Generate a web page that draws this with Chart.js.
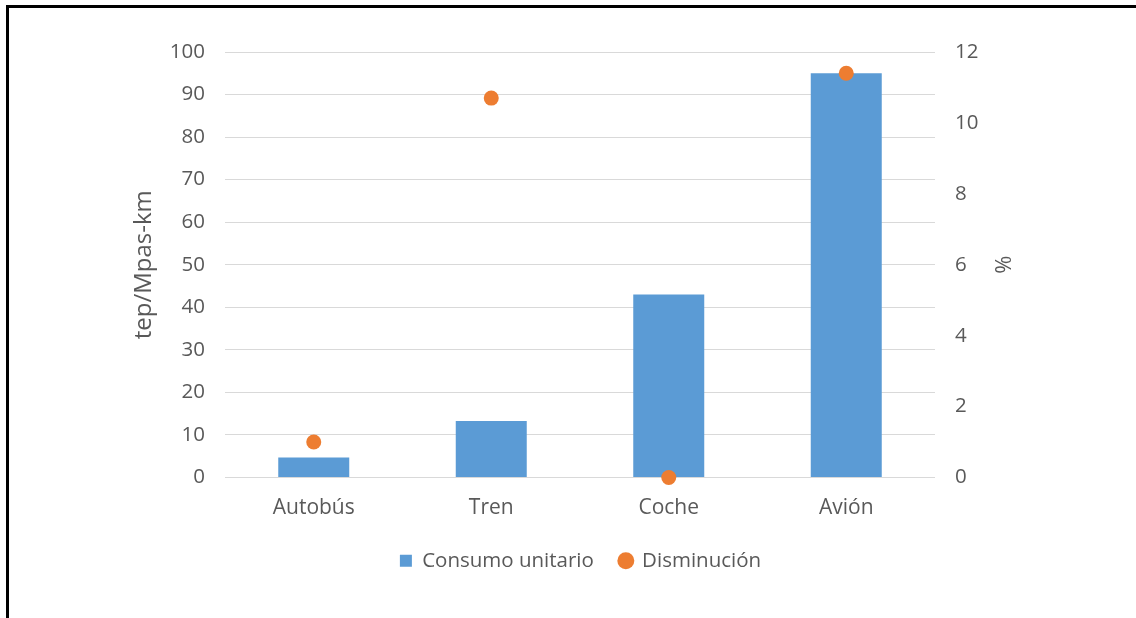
<!DOCTYPE html>
<html>
<head>
<meta charset="utf-8">
<script src="https://cdn.jsdelivr.net/npm/chart.js@4"></script>
<style>
  html, body { margin: 0; padding: 0; background: #fff; }
  #wrap { position: relative; width: 1136px; height: 618px; overflow: hidden; }
  #frame { position: absolute; left: 6px; top: 5px; width: 1200px; height: 700px;
           border-top: 3px solid #000; border-left: 3px solid #000; }
  #myChart { position: absolute; left: 0; top: 0; }
</style>
</head>
<body>
<div id="wrap">
  <div id="frame"></div>
  <canvas id="myChart" width="1136" height="618"></canvas>
</div>
<script>
// categorias y valores
const modos = ['Autobús', 'Tren', 'Coche', 'Avión'];
const consumoUnitario = [4.7, 13.3, 43, 95];    // tep/Mpas-km
const disminucion = [1.0, 10.7, 0, 11.4];        // %
const ticksIzq = [0, 10, 20, 30, 40, 50, 60, 70, 80, 90, 100];
const ticksDer = [0, 2, 4, 6, 8, 10, 12];

const gris = '#595959';
const fuente = "'Open Sans', 'Liberation Sans', sans-serif";

// titulo del eje derecho, girado como el izquierdo
const tituloDerecho = {
  id: 'tituloDerecho',
  afterDraw(chart) {
    const c = chart.ctx;
    const area = chart.chartArea;
    c.save();
    c.translate(1005, (area.top + area.bottom) / 2);
    c.rotate(-Math.PI / 2);
    c.font = '22px ' + fuente;
    c.fillStyle = gris;
    c.textAlign = 'center';
    c.textBaseline = 'middle';
    c.fillText('%', 0, 0);
    c.restore();
  }
};

let ctx = document.getElementById('myChart').getContext('2d');
let myChart = new Chart(ctx, {
  data: {
    labels: modos,
    datasets: [{
      type: 'bar',
      label: 'Consumo unitario',
      data: consumoUnitario,
      backgroundColor: '#5B9BD5',
      yAxisID: 'y',
      barPercentage: 0.4,
      categoryPercentage: 1,
      pointStyle: 'rect',
      order: 1
    }, {
      type: 'line',
      label: 'Disminución',
      data: disminucion,
      showLine: false,
      clip: false,
      yAxisID: 'y1',
      backgroundColor: '#ED7D31',
      borderColor: '#ED7D31',
      pointRadius: 7.5,
      pointBorderWidth: 0,
      pointStyle: 'circle',
      order: 0
    }]
  },
  options: {
    responsive: false,
    animation: false,
    layout: { padding: { left: 126, right: 101, top: 52, bottom: 37 } },
    plugins: {
      tooltip: { enabled: false },
      legend: {
        position: 'bottom',
        labels: {
          usePointStyle: true,
          boxWidth: 12,
          boxHeight: 12,
          padding: 26,
          color: gris,
          font: { family: fuente, size: 20.5 },
          sort: (a, b) => a.datasetIndex - b.datasetIndex
        }
      }
    },
    scales: {
      x: {
        grid: { display: false, drawTicks: false },
        border: { display: false },
        ticks: { color: gris, padding: 18, font: { family: fuente, size: 21 } },
        afterFit: (s) => { s.height = 47; }
      },
      y: {
        position: 'left',
        min: 0,
        max: 100,
        afterBuildTicks: (s) => { s.ticks = ticksIzq.map(v => ({ value: v })); },
        grid: { color: '#D9D9D9', lineWidth: 1, drawTicks: false },
        border: { display: false },
        ticks: { color: gris, padding: 20, font: { family: fuente, size: 20.5 } },
        title: {
          display: true,
          text: 'tep/Mpas-km',
          color: gris,
          font: { family: fuente, size: 24 },
          padding: { top: 4, bottom: 4 }
        },
        afterFit: (s) => { s.width = 99; }
      },
      y1: {
        position: 'right',
        min: 0,
        max: 12,
        afterBuildTicks: (s) => { s.ticks = ticksDer.map(v => ({ value: v })); },
        grid: { display: false, drawTicks: false },
        border: { display: false },
        ticks: { color: gris, padding: 20, font: { family: fuente, size: 20.5 } },
        afterFit: (s) => { s.width = 100; }
      }
    }
  },
  plugins: [tituloDerecho]
});
</script>
</body>
</html>
